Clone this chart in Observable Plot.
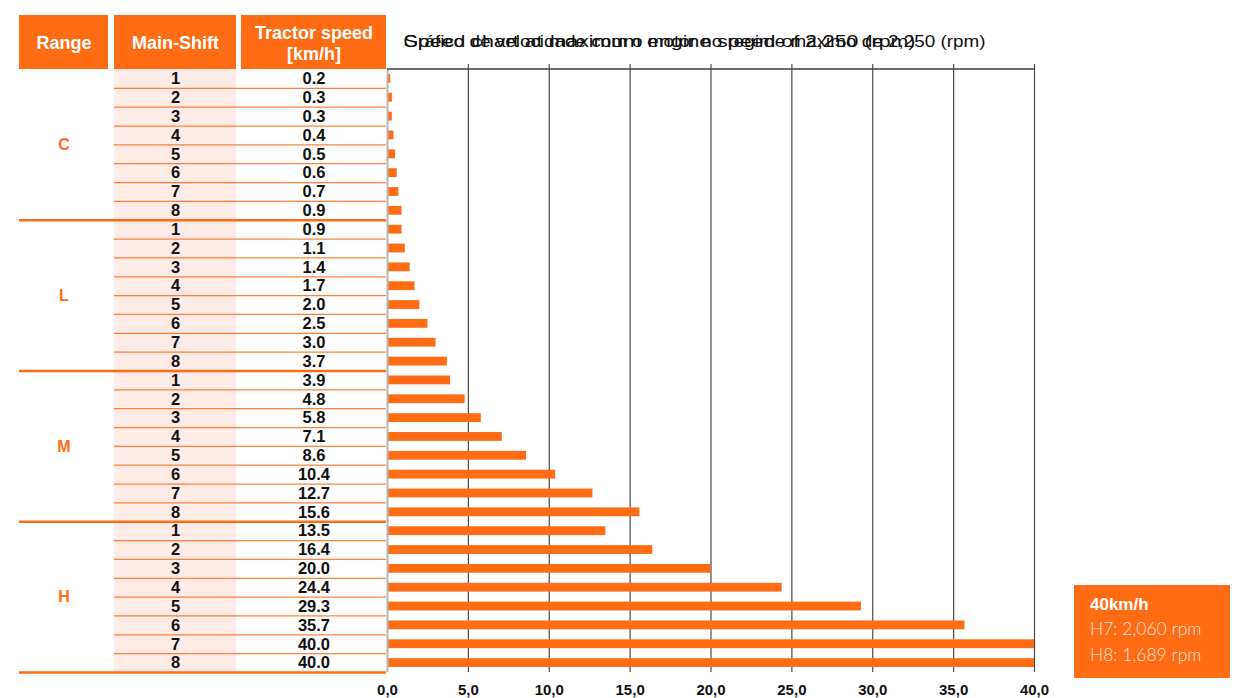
<!DOCTYPE html>
<html>
<head>
<meta charset="utf-8">
<script src="https://cdn.jsdelivr.net/npm/d3@7"></script>
<script src="https://cdn.jsdelivr.net/npm/@observablehq/plot@0.6"></script>
<style>
  body { margin: 0; background: #fff; font-family: "Liberation Sans", Arial, sans-serif; }
  #wrap { position: relative; width: 1245px; height: 698px; overflow: hidden; }
  #wrap > svg { position: absolute; left: 0; top: 0; }
  #callout { position: absolute; left: 1074px; top: 585px; width: 156px; height: 93px;
    background: #ff6c13; box-sizing: border-box; padding: 9px 0 0 16px; color: #fff; }
  #callout .t { font-weight: bold; font-size: 17px; line-height: 22px; }
  #callout .l { font-weight: 300; font-size: 17.5px; line-height: 26px; color: rgba(255,255,255,0.85); font-family: Lato, "Liberation Sans", Arial, sans-serif; }
</style>
</head>
<body>
<div id="wrap"></div>
<script>
// ---- data ----
const ranges = ["C", "L", "M", "H"];
const mainShifts = [1, 2, 3, 4, 5, 6, 7, 8];
const speedsC = [0.2, 0.3, 0.3, 0.4, 0.5, 0.6, 0.7, 0.9];
const speedsL = [0.9, 1.1, 1.4, 1.7, 2.0, 2.5, 3.0, 3.7];
const speedsM = [3.9, 4.8, 5.8, 7.1, 8.6, 10.4, 12.7, 15.6];
const speedsH = [13.5, 16.4, 20.0, 24.4, 29.3, 35.7, 40.0, 40.0];
const xTicks = [0, 5, 10, 15, 20, 25, 30, 35, 40];
const headers = ["Range", "Main-Shift", "Tractor speed\n[km/h]"];
const titleA = "Gráfico de velocidade com o motor no regime máximo de 2,250 (rpm)";
const titleB = "Speed chart at maximum engine speed of 2,250 (rpm)";
const calloutTitle = "40km/h";
const calloutLines = ["H7: 2,060 rpm", "H8: 1,689 rpm"];

// ---- layout ----
const W = 1245, H = 698;
const ORANGE = "#ff6c13";
const PINK = "#fdebe8";
const tableTop = 15, rowsTop = 69, rowsBottom = 672;
const nRows = ranges.length * mainShifts.length;
const rowH = (rowsBottom - rowsTop) / nRows;
const headerUnits = (rowsTop - tableTop) / rowH;
const colLeft = [19, 114, 241];
const colRight = [108, 236, 386];
const colCenter = colLeft.map((l, i) => (l + colRight[i]) / 2);
const chartLeft = 387, chartRight = 1034;

const speedsByRange = [speedsC, speedsL, speedsM, speedsH];
const rows = ranges.flatMap((r, g) => mainShifts.map((m, i) => ({
  range: r, shift: m, speed: speedsByRange[g][i], idx: g * mainShifts.length + i, key: r + m
})));
const fontFamily = "'Liberation Sans', Arial, sans-serif";

// ---- table ----
const table = Plot.plot({
  width: 400, height: H,
  margin: 0,
  style: { background: "transparent", fontFamily },
  x: { type: "identity", axis: null },
  y: { domain: [-headerUnits, nRows], range: [tableTop, rowsBottom], axis: null },
  marks: [
    Plot.rect(headers, { x1: (d, i) => colLeft[i], x2: (d, i) => colRight[i], y1: -headerUnits, y2: 0, fill: ORANGE }),
    Plot.text(headers, { x: (d, i) => colCenter[i], y: -headerUnits / 2, text: d => d, fill: "white",
      fontWeight: "bold", fontSize: 18, lineHeight: 1.17 }),
    Plot.rect([0], { x1: colLeft[1], x2: colRight[1], y1: 0, y2: nRows, fill: PINK }),
    Plot.ruleY(rows.filter(d => d.idx % 8 !== 0), { y: d => d.idx, x1: colLeft[1], x2: colRight[2],
      stroke: ORANGE, strokeWidth: 1.3, strokeOpacity: 0.85 }),
    Plot.ruleY(ranges, { y: (d, g) => (g + 1) * mainShifts.length, x1: colLeft[0], x2: colRight[2],
      stroke: ORANGE, strokeWidth: 2.3 }),
    Plot.text(ranges, { x: colCenter[0], y: (d, g) => g * mainShifts.length + mainShifts.length / 2, text: d => d,
      fill: ORANGE, fontWeight: "bold", fontSize: 16 }),
    Plot.text(rows, { x: colCenter[1], y: d => d.idx + 0.5, text: d => String(d.shift),
      fill: "#111", fontWeight: "bold", fontSize: 16.5 }),
    Plot.text(rows, { x: colCenter[2], y: d => d.idx + 0.5, text: d => d.speed.toFixed(1),
      fill: "#111", fontWeight: "bold", fontSize: 16.5 })
  ]
});

// ---- chart ----
const chart = Plot.plot({
  width: W, height: H,
  marginLeft: chartLeft, marginRight: W - chartRight, marginTop: rowsTop, marginBottom: H - rowsBottom,
  style: { background: "transparent", fontFamily, overflow: "visible" },
  x: { domain: [0, 40], axis: null },
  y: { domain: rows.map(d => d.key), padding: 0, round: false, axis: null },
  marks: [
    Plot.ruleX(xTicks.filter(d => d > 0), { stroke: "#4a4a4a", strokeWidth: 1.2, insetTop: -5 }),
    Plot.barX(rows, { x: "speed", y: "key", fill: ORANGE, insetTop: 5, insetBottom: 5 }),
    Plot.ruleX([0], { stroke: "#b5b5b5", strokeWidth: 2 }),
    Plot.barX([rows[0]], { x1: 0, x2: 40, y: "key", fill: "#4a4a4a", insetTop: -0.8, insetBottom: rowH - 0.8 }),
    Plot.axisX({ ticks: xTicks, tickFormat: d => d.toFixed(1).replace(".", ","), tickSize: 0, tickPadding: 12,
      fontSize: 15, fontWeight: "bold", fill: "#111", label: null }),
    Plot.text([titleA, titleB], { frameAnchor: "top-left", dx: 16, dy: -28, lineAnchor: "middle",
      text: d => d, fontSize: 17, fill: "#111" })
  ]
});

const wrap = document.getElementById("wrap");
wrap.appendChild(table);
wrap.appendChild(chart);

// fit title widths
const titleWidths = new Map([[titleA, 582], [titleB, 512]]);
chart.querySelectorAll("text").forEach(t => {
  const w = titleWidths.get(t.textContent);
  if (w) { t.setAttribute("textLength", w); t.setAttribute("lengthAdjust", "spacingAndGlyphs"); }
});

// callout
const box = document.createElement("div");
box.id = "callout";
box.innerHTML = `<div class="t">${calloutTitle}</div>` + calloutLines.map(l => `<div class="l">${l}</div>`).join("");
wrap.appendChild(box);
</script>
</body>
</html>
